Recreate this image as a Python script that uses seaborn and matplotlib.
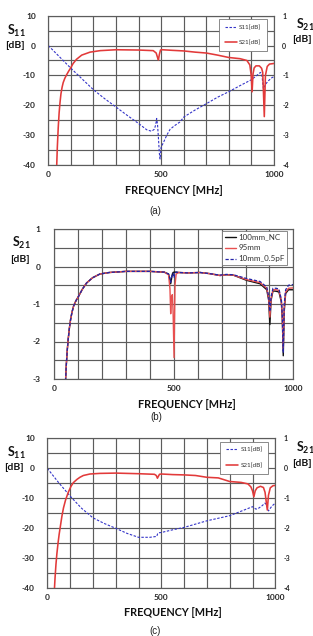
import numpy as np
import pandas as pd
import matplotlib
matplotlib.use('Agg')
import matplotlib.pyplot as plt
import seaborn as sns

# ---------------- data (a) ----------------
a_s11_freq = [0, 50, 100, 150, 200, 250, 300, 350, 400, 436, 458, 470, 476, 480, 484, 488,
              492, 495, 500, 510, 525, 540, 560, 583, 601, 650, 702, 750, 801, 850, 901,
              940, 946, 953, 962, 975, 990, 1000]
a_s11_db = [0, -3.8, -7.6, -11.2, -14.8, -17.8, -20.6, -23.4, -26.1, -28.2, -28.7, -28.0,
            -26.5, -24.4, -26.5, -31, -36, -38, -34, -32.5, -30, -28, -26.8, -25.6, -23.9,
            -21.6, -19.4, -17.3, -15.4, -13.4, -11.4, -9.0, -9.6, -14.5, -13.0, -11.8,
            -10.8, -10.4]
a_s21_freq = [36, 40, 44, 48, 52, 56, 61, 66, 73, 81, 90, 99, 110, 125, 148, 185, 230, 300,
              400, 465, 478, 484, 488, 492, 497, 505, 550, 600, 650, 700, 750, 800, 850,
              880, 893, 899, 903, 907, 912, 920, 935, 945, 950, 953, 957, 962, 970, 980,
              1000]
a_s21_db = [-4.3, -3.4, -2.75, -2.25, -1.9, -1.62, -1.4, -1.24, -1.1, -0.98, -0.86, -0.75,
            -0.6, -0.46, -0.32, -0.22, -0.17, -0.14, -0.15, -0.17, -0.25, -0.4, -0.48,
            -0.3, -0.15, -0.14, -0.16, -0.18, -0.22, -0.25, -0.32, -0.4, -0.44, -0.5,
            -0.65, -1.0, -1.55, -0.95, -0.75, -0.68, -0.68, -0.76, -0.9, -1.5, -2.38,
            -1.0, -0.7, -0.62, -0.6]

# ---------------- data (b) ----------------
b_freq = [47, 50, 54, 58, 63, 68, 74, 81, 90, 101, 118, 135, 160, 191, 230, 300, 400, 460,
          478, 484, 487, 490, 494, 497, 501, 505, 510, 520, 560, 610, 650, 693, 720, 749,
          805, 861, 889, 897, 902, 907, 915, 928, 940, 950, 954, 958, 962, 968, 980, 1000]
b_100mm_nc = [-3.05, -2.65, -2.25, -1.95, -1.65, -1.42, -1.22, -1.05, -0.92, -0.8, -0.6,
              -0.44, -0.3, -0.2, -0.16, -0.13, -0.13, -0.15, -0.2, -0.35, -0.46, -0.35,
              -0.2, -0.16, -0.15, -0.15, -0.15, -0.16, -0.17, -0.16, -0.19, -0.24, -0.22,
              -0.23, -0.37, -0.46, -0.62, -0.9, -1.55, -0.9, -0.65, -0.66, -0.68, -0.95,
              -1.4, -2.38, -1.2, -0.72, -0.62, -0.62]
b_95mm = [-3.05, -2.65, -2.25, -1.95, -1.65, -1.42, -1.22, -1.05, -0.92, -0.8, -0.6,
          -0.44, -0.3, -0.2, -0.16, -0.13, -0.13, -0.15, -0.22, -0.6, -1.26, -0.8, -0.75,
          -1.2, -2.43, -0.5, -0.2, -0.16, -0.17, -0.16, -0.19, -0.24, -0.22, -0.23,
          -0.35, -0.43, -0.58, -0.85, -1.35, -0.85, -0.62, -0.62, -0.64, -0.9, -1.35,
          -2.2, -1.1, -0.68, -0.58, -0.57]
b_10mm_05pf = [-3.05, -2.65, -2.25, -1.95, -1.65, -1.42, -1.22, -1.05, -0.92, -0.8, -0.6,
               -0.44, -0.3, -0.2, -0.16, -0.13, -0.13, -0.15, -0.2, -0.32, -0.42, -0.3,
               -0.2, -0.18, -0.3, -0.17, -0.15, -0.16, -0.17, -0.16, -0.19, -0.23, -0.21,
               -0.22, -0.32, -0.4, -0.55, -0.8, -1.2, -0.8, -0.58, -0.58, -0.6, -0.88,
               -1.3, -2.3, -1.0, -0.62, -0.5, -0.48]

# ---------------- data (c) ----------------
c_s11_freq = [0, 50, 103, 150, 200, 250, 300, 350, 400, 450, 480, 484, 488, 500, 550, 600,
              700, 800, 900, 915, 925, 940, 955, 962, 970, 985, 1000]
c_s11_db = [0, -4.8, -9.5, -13.3, -16.5, -18.4, -20.0, -21.7, -23.0, -23.0, -22.7, -21.8,
            -21.5, -21.4, -20.5, -19.7, -17.5, -15.8, -12.8, -13.6, -13.4, -12.6, -11.6,
            -12.2, -14.2, -12.6, -11.6]
c_s21_freq = [30, 34, 38, 42, 47, 52, 58, 64, 71, 80, 92, 104, 114, 130, 143, 158, 187, 230,
              300, 400, 470, 478, 483, 487, 492, 500, 550, 600, 650, 700, 750, 800, 850,
              880, 893, 900, 906, 912, 920, 935, 948, 955, 960, 965, 970, 978, 990, 1000]
c_s21_db = [-4.2, -3.65, -3.2, -2.85, -2.5, -2.2, -1.9, -1.6, -1.32, -1.06, -0.8, -0.6,
            -0.48, -0.37, -0.3, -0.24, -0.19, -0.17, -0.16, -0.18, -0.2, -0.24, -0.33,
            -0.27, -0.2, -0.19, -0.21, -0.22, -0.24, -0.3, -0.32, -0.44, -0.47, -0.52,
            -0.62, -0.75, -0.95, -0.75, -0.65, -0.6, -0.64, -0.8, -1.1, -1.39, -0.9,
            -0.65, -0.58, -0.57]

x_tick_labels = {0: '0', 500: '500', 1000: '1000'}

# ---------------- style ----------------
sns.set_theme(style='white')
plt.rcParams['font.family'] = ['Lato', 'DejaVu Sans']
plt.rcParams['mathtext.fontset'] = 'custom'
plt.rcParams['mathtext.rm'] = 'Lato'
plt.rcParams['mathtext.bf'] = 'Lato:bold'

W, H = 313, 636
fig = plt.figure(figsize=(W / 100, H / 100), dpi=100)


def rect(l, t, r, b):
    return [l / W, 1 - b / H, (r - l) / W, (b - t) / H]


def ftext(x, y, s, **kw):
    fig.text(x / W, 1 - y / H, s, ha='center', va='center', **kw)


GRID = '#5c5c5c'
RED = '#e23a3a'
BLUE = '#3434c8'


def style_axes(ax, ymin, ymax, ystep, lab_step, lpad):
    ax.set_xlim(0, 1000)
    ax.set_ylim(ymin, ymax)
    xt = np.arange(0, 1001, 100)
    ax.set_xticks(xt)
    ax.set_xticklabels([x_tick_labels.get(int(v), '') for v in xt])
    yt = np.arange(ymin, ymax + ystep / 2, ystep)
    ax.set_yticks(yt)
    labs = []
    for v in yt:
        r = round(v / lab_step)
        labs.append(str(int(round(v))) if abs(v - r * lab_step) < 1e-6 else '')
    ax.set_yticklabels(labs)
    ax.grid(True, color=GRID, lw=0.85)
    ax.set_axisbelow(True)
    for s in ax.spines.values():
        s.set_color(GRID)
        s.set_linewidth(0.85)
    ax.tick_params(axis='x', length=0, pad=4.0, labelsize=6)
    ax.tick_params(axis='y', length=0, pad=lpad, labelsize=6)
    for t in ax.get_xticklabels() + ax.get_yticklabels():
        t.set_fontweight('bold')
    ax.set_xlabel('')
    ax.set_ylabel('')


def style_right(ax2):
    ax2.set_ylim(-4, 1)
    ax2.set_yticks([1, 0, -1, -2, -3, -4])
    ax2.set_yticklabels(['1', '0', '-1', '-2', '-3', '-4'])
    ax2.grid(False)
    ax2.tick_params(axis='y', length=0, pad=6.0, labelsize=5)
    for t in ax2.get_yticklabels():
        t.set_fontweight('bold')
    for s in ax2.spines.values():
        s.set_visible(False)
    ax2.set_ylabel('')


def s11_s21_panel(r, f11, v11, f21, v21):
    ax = fig.add_axes(rect(*r))
    ax2 = ax.twinx()
    sns.lineplot(x=f11, y=v11, ax=ax, color=BLUE, lw=0.8, dashes=False,
                 estimator=None, sort=False, label='S11[dB]')
    ax.lines[-1].set_dashes((2.2, 1.4))
    sns.lineplot(x=f21, y=v21, ax=ax2, color=RED, lw=1.15,
                 estimator=None, sort=False, label='S21[dB]')
    style_axes(ax, -40, 10, 5, 10, 9.0)
    style_right(ax2)
    h1, l1 = ax.get_legend_handles_labels()
    h2, l2 = ax2.get_legend_handles_labels()
    if ax.get_legend():
        ax.get_legend().remove()
    leg = ax2.legend(h1 + h2, l1 + l2, loc='upper right', bbox_to_anchor=(0.969, 0.978),
                     fontsize=4.5, frameon=True, fancybox=False, edgecolor='#777777',
                     framealpha=1, handlelength=2.0, labelspacing=1.6, borderpad=0.9,
                     handletextpad=0.3, borderaxespad=0)
    leg.get_frame().set_linewidth(0.6)
    for t in leg.get_texts():
        t.set_color('#333333')
    return ax, ax2


bold = dict(fontweight='bold', color='#111111')

# ---------------- panel (a) ----------------
s11_s21_panel((48.3, 15.7, 274, 165), a_s11_freq, a_s11_db, a_s21_freq, a_s21_db)
ftext(16.7, 31, r'$\mathbf{S}_{\mathbf{11}}$', fontsize=9, **bold)
ftext(14.5, 46, '[dB]', fontsize=7.5, **bold)
ftext(305, 25, r'$\mathbf{S}_{\mathbf{21}}$', fontsize=9, **bold)
ftext(302, 40, '[dB]', fontsize=7.5, **bold)
ftext(173.5, 191, 'FREQUENCY [MHz]', fontsize=7.8, **bold)
ftext(155.5, 211, '(a)', fontsize=7, family=['Liberation Sans', 'DejaVu Sans'], color='#222222')

# ---------------- panel (b) ----------------
axb = fig.add_axes(rect(54.3, 229, 293.3, 379))
dfb = pd.DataFrame({'freq': b_freq, '100mm_NC': b_100mm_nc, '95mm': b_95mm,
                    '10mm_0.5pF': b_10mm_05pf})
sns.lineplot(data=dfb, x='freq', y='100mm_NC', ax=axb, color='#111111', lw=1.0,
             estimator=None, sort=False, label='100mm_NC')
sns.lineplot(data=dfb, x='freq', y='95mm', ax=axb, color='#e85050', lw=1.0,
             estimator=None, sort=False, label='95mm')
sns.lineplot(data=dfb, x='freq', y='10mm_0.5pF', ax=axb, color='#2424a8', lw=0.9,
             estimator=None, sort=False, label='10mm_0.5pF')
axb.lines[-1].set_dashes((2.6, 1.4))
style_axes(axb, -3, 1, 0.5, 1, 10.0)
legb = axb.legend(loc='upper right', bbox_to_anchor=(0.974, 0.987), fontsize=5.8,
                  frameon=True, fancybox=False, edgecolor='#777777', framealpha=1,
                  handlelength=1.4, labelspacing=0.5, borderpad=0.3, handletextpad=0.3,
                  borderaxespad=0)
legb.get_frame().set_linewidth(0.6)
for t in legb.get_texts():
    t.set_color('#333333')
ftext(21, 243, r'$\mathbf{S}_{\mathbf{21}}$', fontsize=9, **bold)
ftext(19.5, 259, '[dB]', fontsize=7.5, **bold)
ftext(187, 404, 'FREQUENCY [MHz]', fontsize=7.8, **bold)
ftext(156, 417, '(b)', fontsize=7, family=['Liberation Sans', 'DejaVu Sans'], color='#222222')

# ---------------- panel (c) ----------------
s11_s21_panel((47.3, 438.3, 275.3, 588.3), c_s11_freq, c_s11_db, c_s21_freq, c_s21_db)
ftext(16, 453, r'$\mathbf{S}_{\mathbf{11}}$', fontsize=9, **bold)
ftext(14, 468, '[dB]', fontsize=7.5, **bold)
ftext(305, 448, r'$\mathbf{S}_{\mathbf{21}}$', fontsize=9, **bold)
ftext(302, 463, '[dB]', fontsize=7.5, **bold)
ftext(173, 613, 'FREQUENCY [MHz]', fontsize=7.8, **bold)
ftext(155, 631, '(c)', fontsize=7, family=['Liberation Sans', 'DejaVu Sans'], color='#222222')

fig.savefig('out.png', dpi=100)
